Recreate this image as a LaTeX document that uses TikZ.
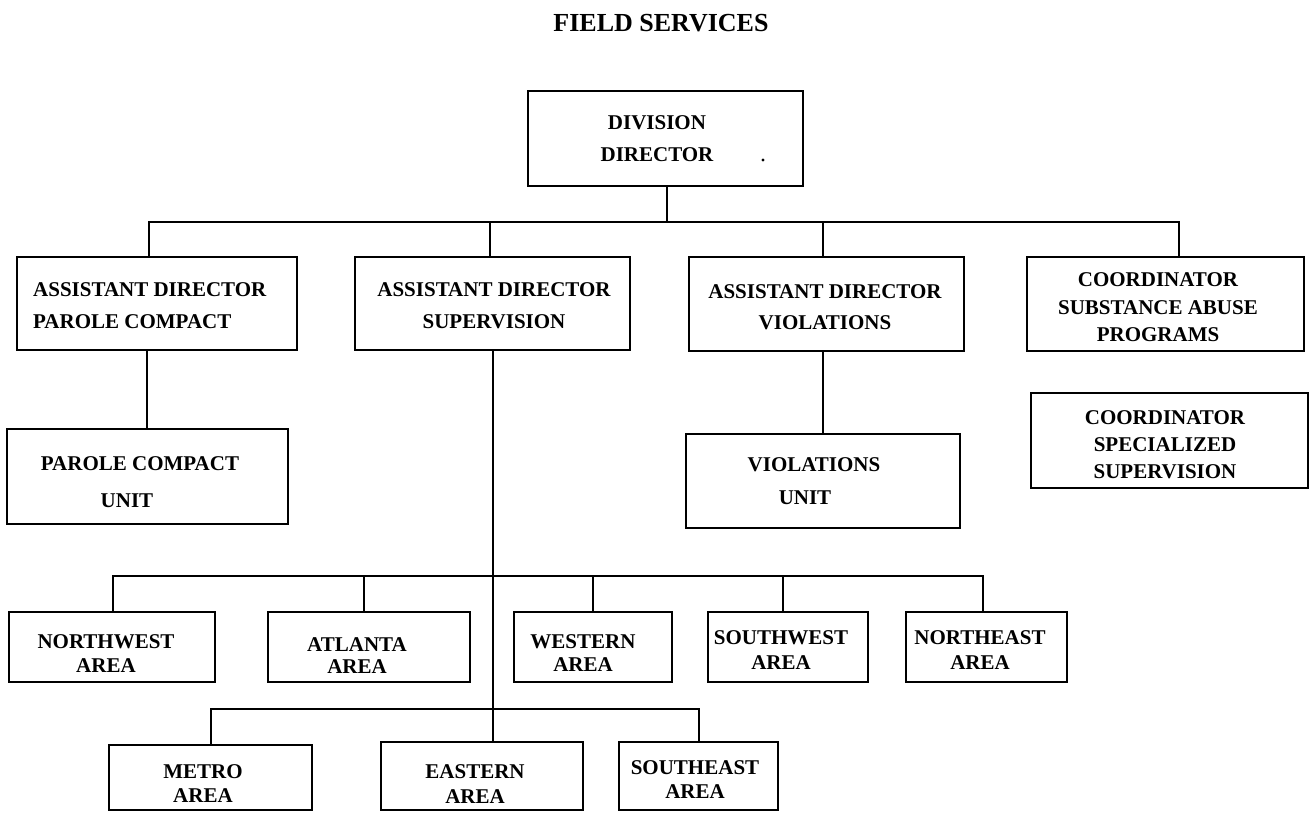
\documentclass[tikz,border=0pt]{standalone}
\usepackage{fontspec}
\setmainfont{Liberation Serif}
\usetikzlibrary{fit}
\tikzset{
  orgbox/.style={draw, line width=1.8pt, inner sep=0pt},
  lbl/.style={font=\bfseries\fontsize{21}{#1}\selectfont, align=center, inner sep=0pt},
  lbl/.default=24,
  conn/.style={line width=1.6pt},
}
\begin{document}
\begin{tikzpicture}[x=1pt,y=-1pt]
\useasboundingbox (0,0) rectangle (1310,812);

% title
\node[font=\bfseries\fontsize{26}{30}\selectfont, inner sep=0pt] (title) at (661,23) {FIELD SERVICES};

% boxes
\node[orgbox, fit={(528,91) (803,186)}] (dd) {};
\node[orgbox, fit={(17,257) (297,350)}] (adp) {};
\node[orgbox, fit={(355,257) (630,350)}] (ads) {};
\node[orgbox, fit={(689,257) (964,351)}] (adv) {};
\node[orgbox, fit={(1027,257) (1304,351)}] (sap) {};
\node[orgbox, fit={(7,429) (288,524)}] (pcu) {};
\node[orgbox, fit={(686,434) (960,528)}] (vu) {};
\node[orgbox, fit={(1031,393) (1308,488)}] (css) {};
\node[orgbox, fit={(9,612) (215,682)}] (nw) {};
\node[orgbox, fit={(268,612) (470,682)}] (atl) {};
\node[orgbox, fit={(514,612) (672,682)}] (wst) {};
\node[orgbox, fit={(708,612) (868,682)}] (sw) {};
\node[orgbox, fit={(906,612) (1067,682)}] (ne) {};
\node[orgbox, fit={(109,745) (312,810)}] (met) {};
\node[orgbox, fit={(381,742) (583,810)}] (eas) {};
\node[orgbox, fit={(619,742) (778,810)}] (se) {};

% labels
\node[lbl=32] (ddt) at (657,139) {DIVISION\\DIRECTOR};
\fill (763,160) circle (1.6pt);
\node[lbl=32, align=left, anchor=west] (adpt) at (33,306) {ASSISTANT DIRECTOR\\PAROLE COMPACT};
\node[lbl=32] (adst) at (494,306) {ASSISTANT DIRECTOR\\SUPERVISION};
\node[lbl=31] (advt) at (825,307) {ASSISTANT DIRECTOR\\VIOLATIONS};
\node[lbl=27.5] (sapt) at (1158,307.5) {COORDINATOR\\SUBSTANCE ABUSE\\PROGRAMS};
\node[lbl=37] (pcut) at (140,482.5) {PAROLE COMPACT\\UNIT\hspace*{26pt}};
\node[lbl=33] (vut) at (814,481.5) {VIOLATIONS\\UNIT\hspace*{18pt}};
\node[lbl=27] (csst) at (1165,445) {COORDINATOR\\SPECIALIZED\\SUPERVISION};
\node[lbl] (nwt) at (106,654) {NORTHWEST\\AREA};
\node[lbl=22] (atlt) at (357,656) {ATLANTA\\AREA};
\node[lbl=23] (wstt) at (583,653.5) {WESTERN\\AREA};
\node[lbl=25] (swt) at (781,650.5) {SOUTHWEST\\AREA};
\node[lbl=25] (net) at (980,650.5) {NORTHEAST\\AREA};
\node[lbl] (mett) at (203,784) {METRO\\AREA};
\node[lbl=25] (east) at (475,784.5) {EASTERN\\AREA};
\node[lbl] (set) at (695,780) {SOUTHEAST\\AREA};

% bus coordinates
\coordinate (b0) at (667,222);
\coordinate (b1) at (149,222);
\coordinate (b2) at (490,222);
\coordinate (b3) at (823,222);
\coordinate (b4) at (1179,222);
\coordinate (tr) at (493,576);
\coordinate (a1) at (113,576);
\coordinate (a2) at (364,576);
\coordinate (a3) at (593,576);
\coordinate (a4) at (783,576);
\coordinate (a5) at (983,576);
\coordinate (l1) at (211,709);
\coordinate (l3) at (699,709);

% connectors
\draw[conn] (dd.south -| b0) -- (b0);
\draw[conn] (adp.north -| b1) -- (b1) -- (b4) -- (sap.north -| b4);
\draw[conn] (b2) -- (ads.north -| b2);
\draw[conn] (b3) -- (adv.north -| b3);
\draw[conn] (adp.south -| 147,0) -- (pcu.north -| 147,0);
\draw[conn] (adv.south -| b3) -- (vu.north -| b3);
\draw[conn] (ads.south -| tr) -- (eas.north -| tr);
\draw[conn] (nw.north -| a1) -- (a1) -- (a5) -- (ne.north -| a5);
\draw[conn] (a2) -- (atl.north -| a2);
\draw[conn] (a3) -- (wst.north -| a3);
\draw[conn] (a4) -- (sw.north -| a4);
\draw[conn] (met.north -| l1) -- (l1) -- (l3) -- (se.north -| l3);
\end{tikzpicture}
\end{document}
